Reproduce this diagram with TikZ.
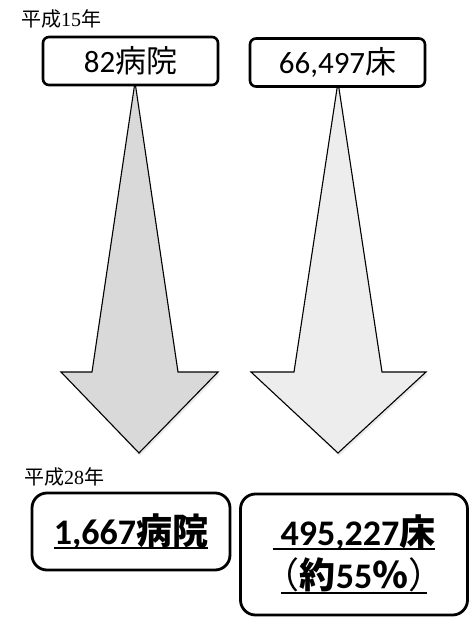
\documentclass[tikz,border=0pt]{standalone}
\usepackage{fontspec}
\setmainfont{Carlito}
\newfontfamily\cjk{Noto Sans CJK JP}
\newfontfamily\serifnum{Liberation Serif}
\newcommand\myul[2][5pt]{\setbox0\hbox{#2}\rlap{\rule[-#1]{\wd0}{2pt}}\box0}
\newcommand\myulw[3][5pt]{\setbox0\hbox{#3}\rlap{\hbox to \wd0{\hss\rule[-#1]{#2}{2pt}\hss}}\box0}
\begin{document}
\begin{tikzpicture}[x=1pt,y=-1pt,
  yearlbl/.style={inner sep=0pt,font=\fontsize{20}{22}\selectfont},
  topbox/.style={draw,line width=2.6pt,rounded corners=6pt,inner sep=0pt,
    font=\fontsize{31}{34}\selectfont},
  botbox/.style={draw,line width=2.8pt,rounded corners=15pt,inner sep=0pt,
    font=\bfseries\fontsize{36}{40}\selectfont,align=center},
  arrowshape/.style={draw,line width=1.1pt,line join=miter}]
\useasboundingbox (0,0) rectangle (471,617);
% arrows (drawn first, boxes on top)
\coordinate (a1) at (135,82);
\coordinate (a2) at (338,82);
\fill[gray!40,opacity=0.4] (a1) -- (179,374) -- (220,374) -- (140,456) -- (63,374) -- (93,374) -- cycle;
\draw[arrowshape,fill=black!15] (a1) -- (178,372) -- (218,372) -- (139,453) -- (61,372) -- (92,372) -- cycle;
\fill[gray!40,opacity=0.4] (a2) -- (383,374) -- (428,374) -- (339,456) -- (253,374) -- (295,374) -- cycle;
\draw[arrowshape,fill=black!7] (a2) -- (382,372) -- (426,372) -- (338,453) -- (251,372) -- (294,372) -- cycle;
% labels
\node[yearlbl] (y1) at (61,19) {{\cjk 平成}{\serifnum 15}{\cjk 年}};
\node[yearlbl] (y2) at (64,477) {{\cjk 平成}{\serifnum 28}{\cjk 年}};
% top boxes
\node[topbox,minimum width=175pt,minimum height=48pt,fill=white] (b1) at (130.5,61) {82{\cjk 病院}};
\node[topbox,minimum width=175pt,minimum height=48pt,fill=white] (b2) at (337.5,62.5) {66,497{\cjk 床}};
% bottom boxes
\node[botbox,minimum width=198pt,minimum height=77pt] (b3) at (131,531.5) {\myul{1,667{\cjk\bfseries 病院}}};
\node[botbox,minimum width=227pt,minimum height=121pt] (b4) at (354,554.5)
  {\myul{\hspace{8pt}495,227{\cjk\bfseries 床}}\\[3pt]\myulw[6pt]{146pt}{{\cjk\mdseries （}{\cjk\bfseries 約}55{\cjk\bfseries ％}{\cjk\mdseries ）}}};
\end{tikzpicture}
\end{document}
